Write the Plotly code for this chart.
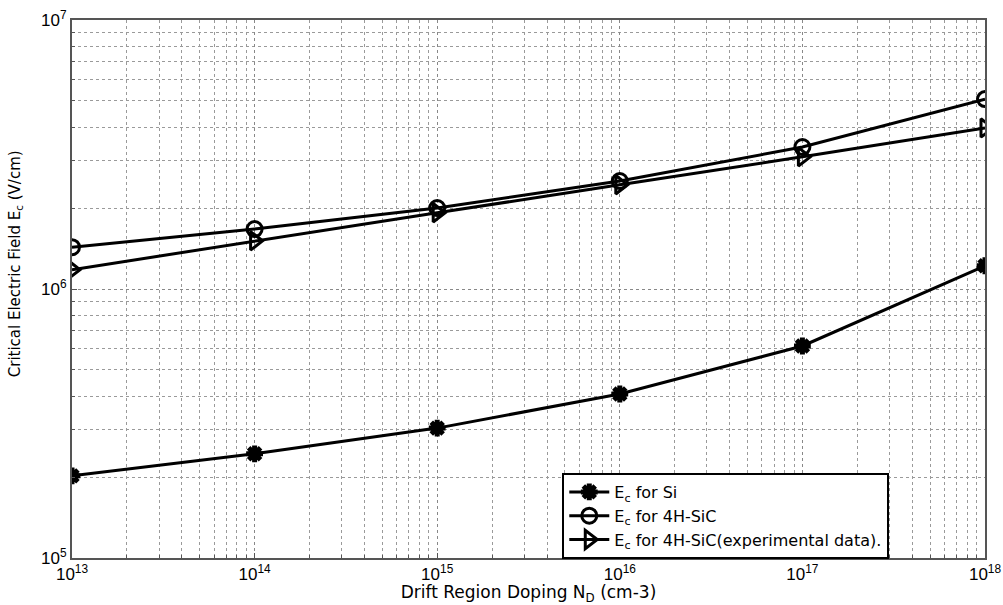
import plotly.graph_objects as go

# Drift region doping (cm^-3)
doping = [1e13, 1e14, 1e15, 1e16, 1e17, 1e18]

# Critical electric field (V/cm)
ec_si = [2.02e5, 2.44e5, 3.04e5, 4.07e5, 6.14e5, 1.22e6]
ec_4h_sic = [1.43e6, 1.67e6, 2.0e6, 2.52e6, 3.37e6, 5.08e6]
ec_4h_sic_exp = [1.18e6, 1.51e6, 1.92e6, 2.44e6, 3.10e6, 3.97e6]

x_ticks = [1e13, 1e14, 1e15, 1e16, 1e17, 1e18]
x_tick_text = ["10<sup>13</sup>", "10<sup>14</sup>", "10<sup>15</sup>",
               "10<sup>16</sup>", "10<sup>17</sup>", "10<sup>18</sup>"]
y_ticks = [1e5, 1e6, 1e7]
y_tick_text = ["10<sup>5</sup>", "10<sup>6</sup>", "10<sup>7</sup>"]

x_minor = [m * 10 ** e for e in range(13, 18) for m in range(2, 10)]
y_minor = [m * 10 ** e for e in range(5, 7) for m in range(2, 10)]

TICK_FONT = "Liberation Sans"
TEXT_FONT = "DejaVu Sans"

fig = go.Figure()

fig.add_trace(go.Scatter(
    x=doping, y=ec_si, mode="lines+markers",
    name="E<sub>c</sub> for Si",
    line=dict(color="black", width=3),
    marker=dict(symbol="asterisk-open", size=14, color="black",
                line=dict(color="black", width=5)),
))
fig.add_trace(go.Scatter(
    x=doping, y=ec_4h_sic, mode="lines+markers",
    name="E<sub>c</sub> for 4H-SiC",
    line=dict(color="black", width=3),
    marker=dict(symbol="circle-open", size=15, color="black",
                line=dict(color="black", width=3)),
))
fig.add_trace(go.Scatter(
    x=doping, y=ec_4h_sic_exp, mode="lines+markers",
    name="E<sub>c</sub> for 4H-SiC(experimental data).",
    line=dict(color="black", width=3),
    marker=dict(symbol="triangle-right-open", size=16, color="black",
                line=dict(color="black", width=3)),
))

grid_style = dict(gridcolor="#888888", griddash="dot", gridwidth=1)
minor_style = dict(showgrid=True, gridcolor="#9a9a9a", griddash="dot",
                   gridwidth=1, ticks="inside", ticklen=3, tickcolor="#555555")

fig.update_xaxes(
    type="log", range=[13, 18], automargin=False,
    tickvals=x_ticks, ticktext=x_tick_text,
    ticks="inside", ticklen=5, tickcolor="#555555",
    showline=True, linecolor="#555555", linewidth=2, mirror=True,
    showgrid=True, **grid_style,
    minor=dict(tickvals=x_minor, **minor_style),
    tickfont=dict(family=TICK_FONT, size=17, color="black"),
    title=dict(text="Drift Region Doping N<sub>D</sub> (cm-3)",
               font=dict(family=TEXT_FONT, size=17, color="black"), standoff=0),
    zeroline=False,
)
fig.update_yaxes(
    type="log", range=[5, 7], automargin=False,
    tickvals=y_ticks, ticktext=y_tick_text,
    ticks="inside", ticklen=5, tickcolor="#555555",
    showline=True, linecolor="#555555", linewidth=2, mirror=True,
    showgrid=True, **grid_style,
    minor=dict(tickvals=y_minor, **minor_style),
    tickfont=dict(family=TICK_FONT, size=17, color="black"),
    zeroline=False,
)

# Y-axis title placed as a rotated annotation
fig.add_annotation(
    text="Critical Electric Field E<sub>c</sub> (V/cm)",
    xref="paper", yref="paper", x=0, y=0.546,
    xanchor="center", yanchor="middle", xshift=-57,
    textangle=-90, showarrow=False,
    font=dict(family=TEXT_FONT, size=15, color="black"),
)

fig.update_layout(
    width=1003, height=605,
    margin=dict(l=72, r=18, t=20, b=47),
    paper_bgcolor="white", plot_bgcolor="white",
    showlegend=True,
    legend=dict(
        x=0.537, y=0.158, xanchor="left", yanchor="top",
        bgcolor="white", bordercolor="black", borderwidth=2,
        font=dict(family=TEXT_FONT, size=16, color="black"),
        tracegroupgap=0, itemwidth=40,
    ),
)

fig.write_html("out.html")
